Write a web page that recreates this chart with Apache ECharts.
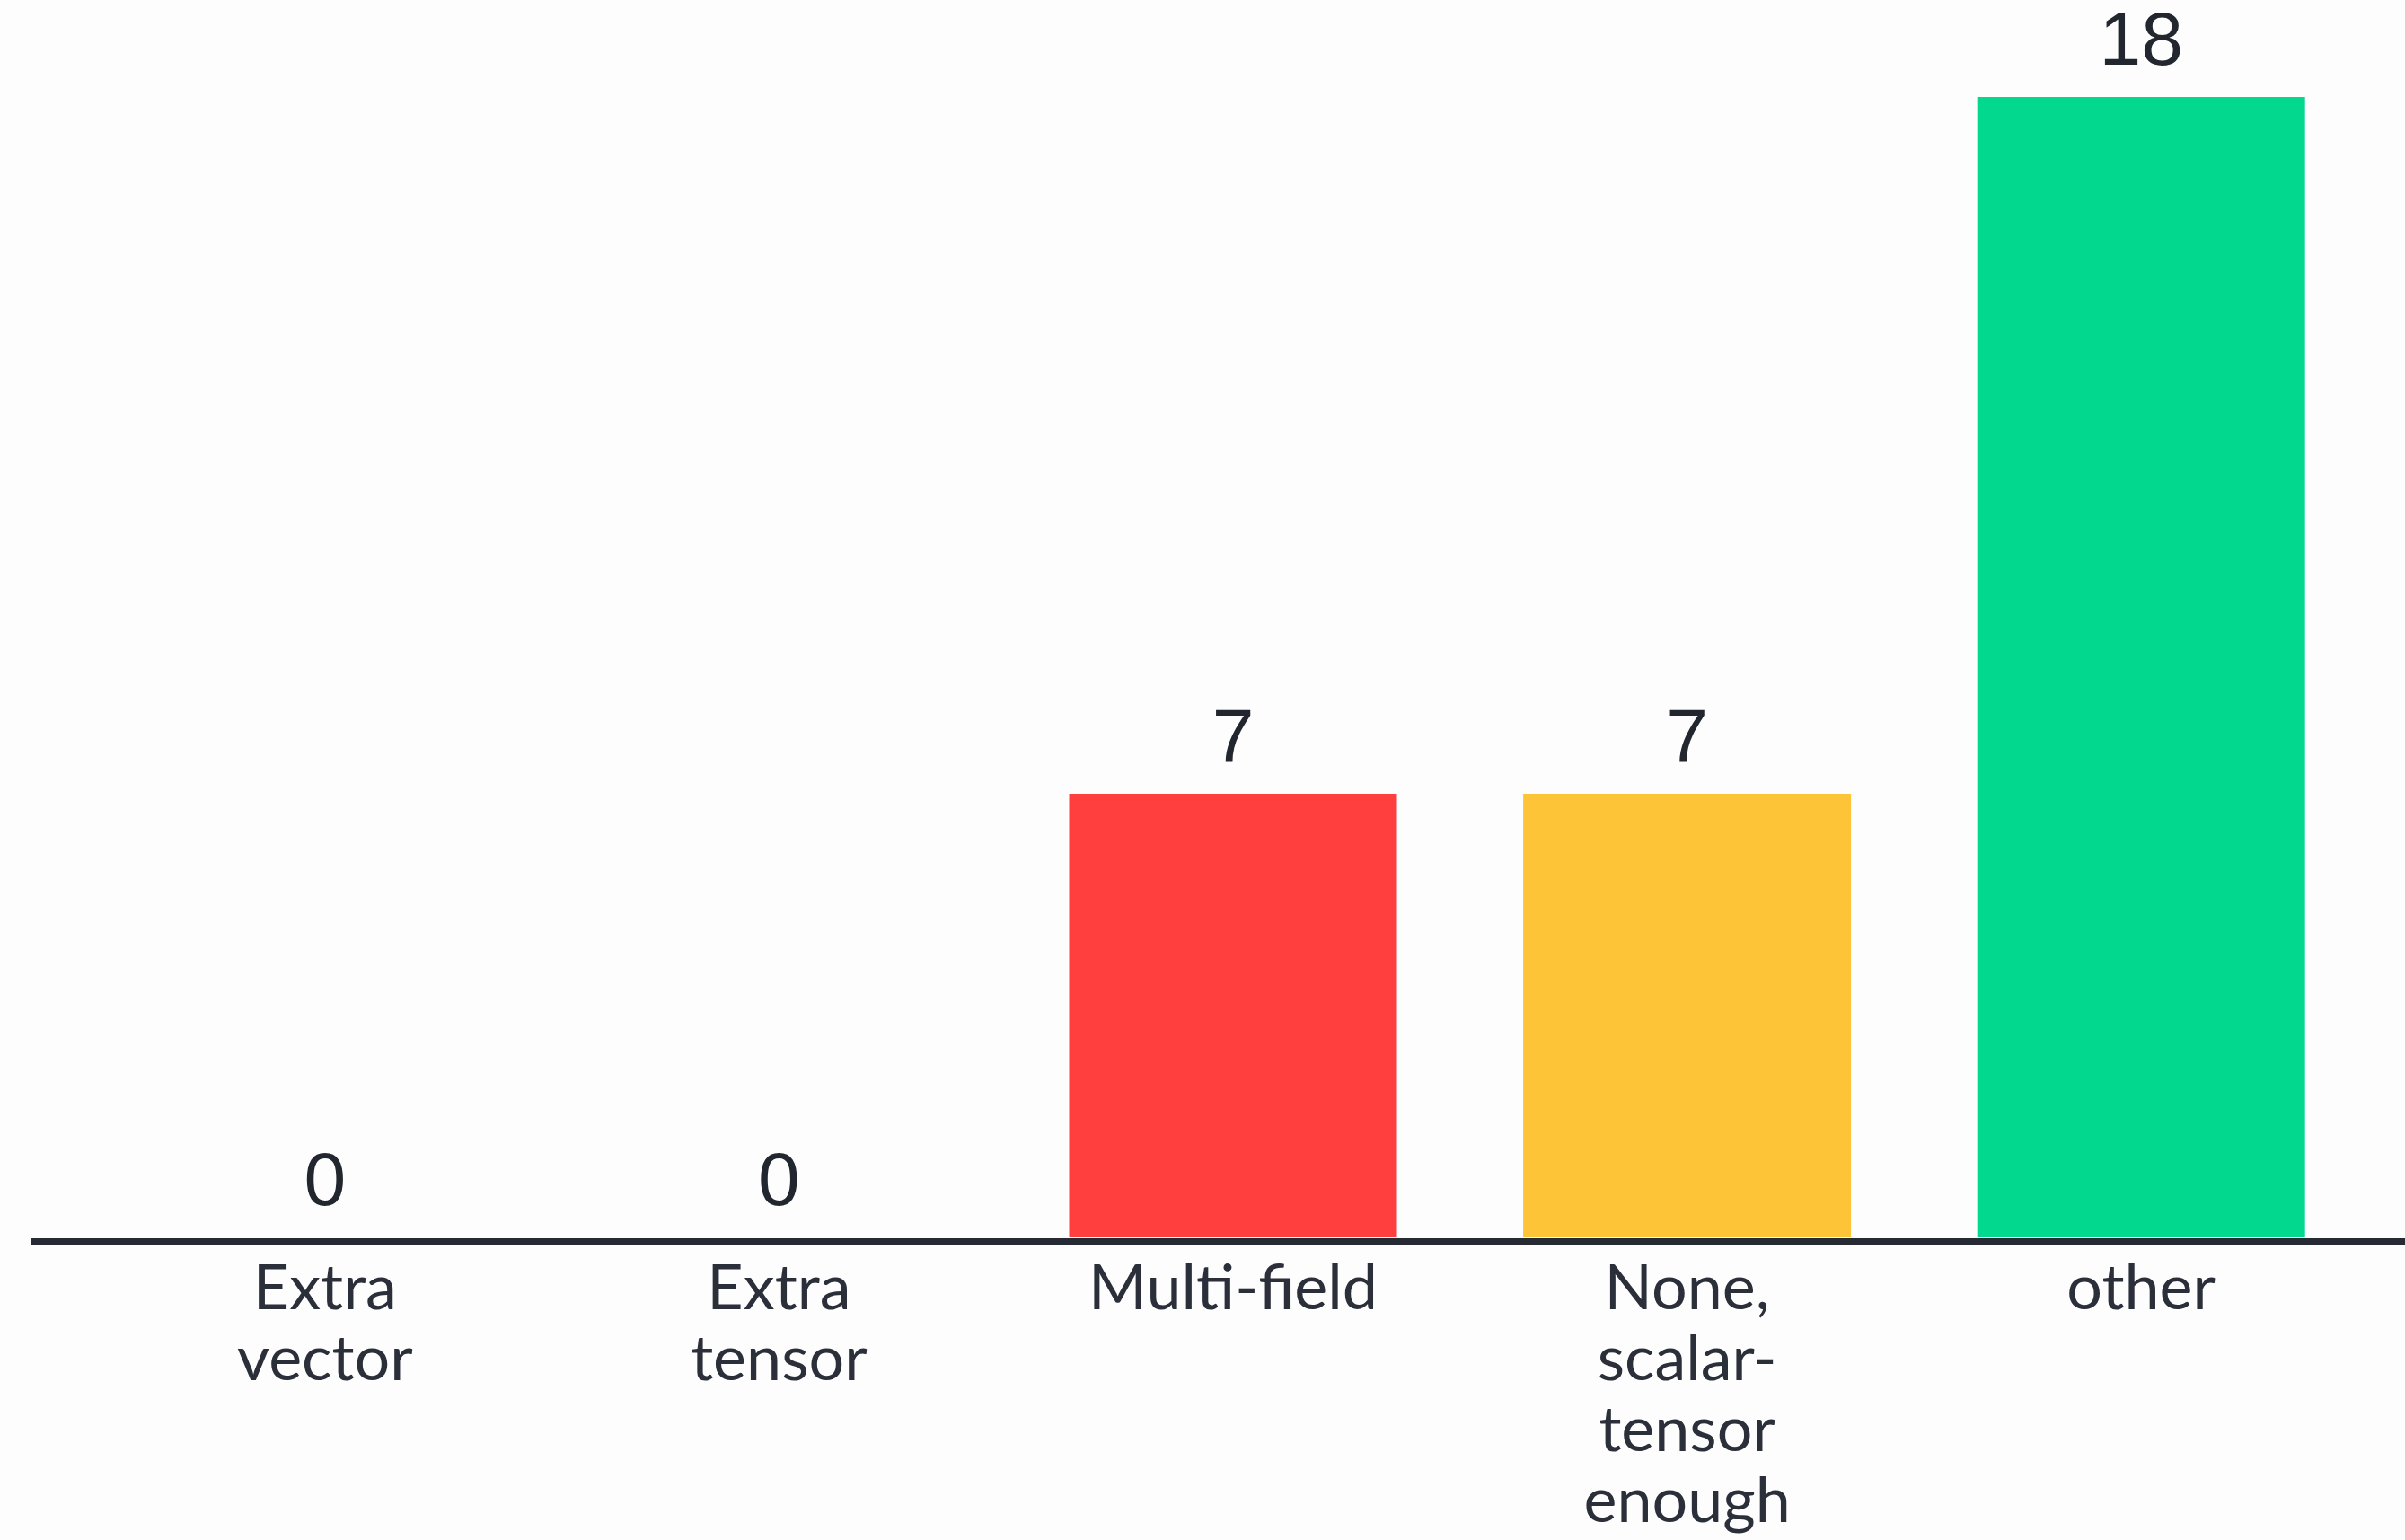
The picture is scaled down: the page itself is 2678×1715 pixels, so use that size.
<!DOCTYPE html>
<html>
<head>
<meta charset="utf-8">
<title>bar</title>
<script src="https://cdn.jsdelivr.net/npm/echarts@6/dist/echarts.min.js"></script>
<style>
    html, body { margin: 0; padding: 0; background: #fdfdfd; }
    #char1 { width: 2678px; height: 1715px; }
</style>
</head>
<body>
<div id="char1"></div>
<script>
var categories = ["Extra\nvector", "Extra\ntensor", "Multi-field", "None,\nscalar-\ntensor\nenough", "other"];
var counts = [0, 0, 7, 7, 18];
var barColors = ["#ff3e3e", "#ff3e3e", "#ff3e3e", "#fdc438", "#02d98f"];

char1();

function char1() {
    var myChart = echarts.init(document.getElementById("char1"));

    var option = {
        backgroundColor: "#fdfdfd",
        animation: false,
        grid: {
            left: 109,
            right: 41,
            top: 108,
            bottom: 337,
        },
        xAxis: {
            type: "category",
            data: categories,
            axisLine: { show: false },
            axisTick: { show: false },
            axisLabel: {
                margin: 18,
                color: "#2b2f3a",
                fontFamily: "Lato",
                fontSize: 70,
                lineHeight: 79,
                interval: 0,
            },
        },
        yAxis: {
            type: "value",
            min: 0,
            max: 18,
            show: false,
            splitLine: { show: false },
        },
        series: [
            {
                type: "bar",
                barWidth: 365,
                data: counts.map(function (v, i) {
                    return { value: v, itemStyle: { color: barColors[i] } };
                }),
                label: {
                    show: true,
                    position: "top",
                    distance: 17,
                    color: "#22262e",
                    fontFamily: "Liberation Sans",
                    fontSize: 84,
                },
            },
        ],
        graphic: [
            {
                type: "rect",
                shape: { x: 34, y: 1379, width: 2644, height: 8 },
                style: { fill: "#262a33" },
            },
        ],
    };

    myChart.setOption(option);
    window.addEventListener("resize", function () {
        myChart.resize();
    });
}
</script>
</body>
</html>
